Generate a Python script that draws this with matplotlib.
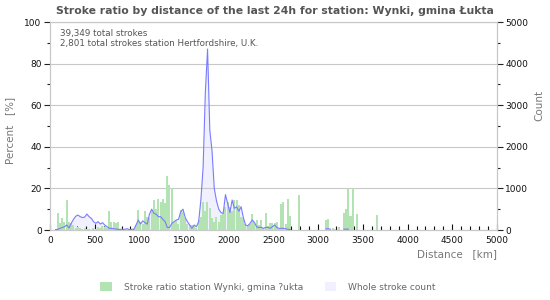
"""Stroke ratio by distance chart for one station."""

import matplotlib

matplotlib.use("Agg")

import matplotlib.pyplot as plt
import numpy as np
from matplotlib.patches import Patch
from matplotlib.ticker import MultipleLocator

# 25 km distance bins, 0..5000 km
bin_width = 25
bin_starts = np.arange(0, 5000, bin_width)

# stroke ratio per bin [%]
ratio_pct = [
    0, 0, 0, 8.3, 3.2, 5.6, 4, 14.4, 4, 3.2, 2.4, 1, 1.6, 1, 0.5, 1, 0.5, 0.5, 0, 1,
    0.5, 1.5, 1, 2, 1.5, 1, 9, 4, 3.7, 3.5, 3.8, 0, 0, 0, 0, 0, 0, 0.5, 2.4, 9.6,
    4, 3, 9, 6.4, 5.6, 9.6, 14.4, 10, 14.7, 13.6, 15, 12.8, 26, 21.6, 20, 4, 4.8, 3, 9.6, 8.8,
    5.6, 3, 2.4, 2.4, 2, 1, 4.8, 6.4, 13.6, 9, 13.6, 10.4, 5.6, 4, 6.4, 4, 7.2, 8, 11.2, 13.6,
    11.2, 9, 14.4, 14.4, 12, 6.4, 5.6, 3, 2, 3, 7.7, 4, 4.8, 2.4, 4.8, 1, 8.3, 2, 3.5, 3.5,
    3.5, 4, 1, 12.3, 13.6, 3, 14.9, 6.8, 0, 0, 0, 16.8, 0, 0, 0, 0, 0, 0, 0, 0,
    0, 0, 0, 4.8, 5.3, 0, 1, 0.5, 0, 1.5, 0, 8.3, 10, 20, 6.7, 20, 0, 7.7, 0, 0,
    0, 0, 0, 0, 0, 0, 7.2, 0, 0, 0, 0, 0, 0, 0, 0, 0, 0, 0, 0, 0,
    0, 0, 0, 0, 0, 0, 0, 0, 0, 0, 0, 0, 0, 0, 0, 0, 0, 0, 0, 0,
    0, 0, 0, 0, 0, 0, 0, 0, 0, 0, 0, 0, 0, 0, 0, 0, 0, 0, 0, 0,
]

# whole stroke count per bin
stroke_count = [
    0, 0, 10, 15, 40, 60, 80, 120, 50, 160, 256, 330, 360, 320, 300, 310, 384, 320, 280, 200,
    160, 200, 144, 176, 120, 80, 40, 40, 30, 24, 16, 16, 16, 16, 32, 8, 16, 16, 120, 240,
    144, 220, 176, 140, 380, 500, 400, 380, 320, 320, 256, 200, 60, 60, 160, 200, 240, 256, 440, 500,
    300, 200, 120, 40, 120, 80, 200, 720, 1500, 3300, 4350, 2400, 1900, 1000, 700, 500, 420, 400, 850, 640,
    420, 720, 520, 560, 450, 560, 300, 120, 100, 160, 240, 180, 70, 60, 64, 40, 60, 64, 40, 80,
    120, 60, 40, 40, 40, 30, 16, 10, 0, 0, 0, 0, 0, 0, 0, 0, 0, 0, 0, 0,
    0, 0, 0, 30, 30, 20, 0, 0, 0, 0, 0, 20, 20, 20, 0, 0, 0, 0, 0, 0,
    0, 0, 0, 0, 0, 0, 10, 0, 0, 0, 0, 0, 0, 0, 0, 0, 0, 0, 0, 0,
    0, 0, 0, 0, 0, 0, 0, 0, 0, 0, 0, 0, 0, 0, 0, 0, 0, 0, 0, 0,
    0, 0, 0, 0, 0, 0, 0, 0, 0, 0, 0, 0, 0, 0, 0, 0, 0, 0, 0, 0,
]

total_strokes = "39,349"
station_strokes = "2,801"
station_name = "Wynki, gmina Łukta"
legend_labels = ["Stroke ratio station Wynki, gmina ?ukta", "Whole stroke count"]

bar_color = "#b3e2b3"
fill_color = "#f0f0ff"
line_color = "#7b7bff"
grid_color = "#c8c8c8"
text_gray = "#555555"

plt.rcParams["font.family"] = ["DejaVu Sans"]

figure = plt.figure(figsize=(5.5, 3.0), dpi=100)
axis = figure.add_axes([50 / 550, 1 - 230 / 300, 447 / 550, 208 / 300])
count_axis = axis.twinx()

# count series sits behind the ratio bars
axis.set_zorder(count_axis.get_zorder() + 1)
axis.patch.set_visible(False)

centers = bin_starts + bin_width / 2
counts = np.array(stroke_count, dtype=float)
counts_masked = np.where(counts > 0, counts, np.nan)
count_axis.fill_between(centers, 0, counts_masked, color=fill_color, linewidth=0, zorder=1)

axis.bar(bin_starts, ratio_pct, width=bin_width * 0.9, align="edge",
         color=bar_color, linewidth=0, zorder=2)

# line on top of the bars, drawn on the ratio axis scale
line_scale = 100 / 5000
axis.plot(centers, counts_masked * line_scale, color=line_color, linewidth=0.8, zorder=3)

axis.set_xlim(0, 5000)
axis.set_ylim(0, 100)
count_axis.set_ylim(0, 5000)

axis.yaxis.set_major_locator(MultipleLocator(20))
axis.yaxis.set_minor_locator(MultipleLocator(10))
count_axis.yaxis.set_major_locator(MultipleLocator(1000))
count_axis.yaxis.set_minor_locator(MultipleLocator(500))
axis.xaxis.set_major_locator(MultipleLocator(500))
axis.xaxis.set_minor_locator(MultipleLocator(100))

axis.grid(axis="y", which="major", color=grid_color, linewidth=0.8, zorder=0)

for ax in (axis, count_axis):
    for spine in ax.spines.values():
        spine.set_color(grid_color)
        spine.set_linewidth(0.8)

axis.tick_params(axis="y", which="major", direction="out", length=4, width=0.8,
                 color="#222222", labelsize=6.5, labelcolor="#111111", pad=2)
axis.tick_params(axis="y", which="minor", direction="out", length=2, width=0.8, color="#222222")
axis.tick_params(axis="x", which="major", direction="in", length=4, width=0.8,
                 color="#111111", labelsize=6.5, labelcolor="#111111", pad=4)
axis.tick_params(axis="x", which="minor", direction="in", length=3, width=0.8, color="#111111")
count_axis.tick_params(axis="y", which="major", direction="out", length=4, width=0.8,
                       color="#222222", labelsize=6.5, labelcolor="#111111", pad=2)
count_axis.tick_params(axis="y", which="minor", direction="out", length=2, width=0.8, color="#222222")

axis.set_ylabel("Percent   [%]", color="#777777", fontsize=7.5)
axis.yaxis.set_label_coords(-35 / 447, 0.48)
count_axis.set_ylabel("Count", color="#777777", fontsize=7.5)
count_axis.yaxis.set_label_coords(1 + 37 / 447, 0.6)
axis.set_xlabel("Distance   [km]", color="#777777", fontsize=7.5, loc="right", labelpad=3)

figure.text(0.5, 0.965, f"Stroke ratio by distance of the last 24h for station: {station_name}",
            ha="center", va="center", fontsize=7.8, fontweight="bold", color=text_gray)

axis.text(0.022, 0.965,
          f"{total_strokes} total strokes\n{station_strokes} total strokes station Hertfordshire, U.K.",
          transform=axis.transAxes, ha="left", va="top", fontsize=6.3, color=text_gray,
          linespacing=1.15, zorder=5)

handles = [
    Patch(facecolor=bar_color, edgecolor="none"),
    Patch(facecolor=fill_color, edgecolor="none"),
]
figure.legend(handles, legend_labels, loc="center left", bbox_to_anchor=(92 / 550, 1 - 287 / 300),
              ncol=2, frameon=False, fontsize=6.5, labelcolor="#666666",
              handlelength=1.3, handleheight=1.1, handletextpad=1.3, columnspacing=2.4)

figure.savefig("out.png", dpi=100)
plt.close(figure)
